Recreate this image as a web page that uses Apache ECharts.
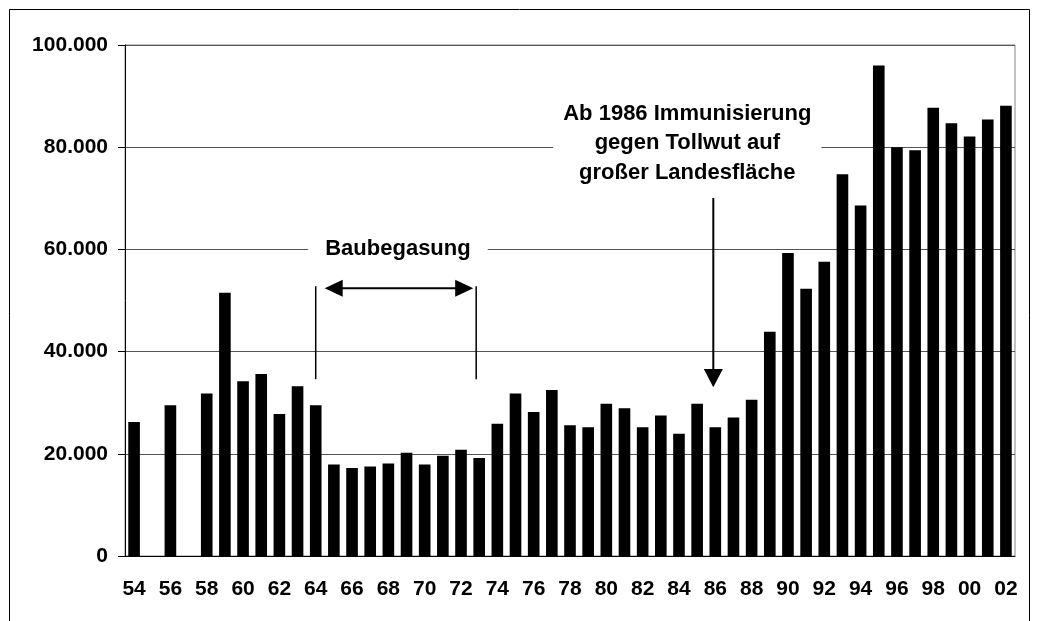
<!DOCTYPE html>
<html>
<head>
<meta charset="utf-8">
<script src="https://cdn.jsdelivr.net/npm/echarts@6/dist/echarts.min.js"></script>
<style>
html, body { margin: 0; padding: 0; background: #fff; }
#main { width: 1037px; height: 621px; }
</style>
</head>
<body>
<div id="main"></div>
<script>
// Jahre 1954 - 2002
var years = ['54','55','56','57','58','59','60','61','62','63','64','65','66','67','68','69',
    '70','71','72','73','74','75','76','77','78','79','80','81','82','83','84','85','86','87',
    '88','89','90','91','92','93','94','95','96','97','98','99','00','01','02'];
var values = [26200, null, 29500, null, 31800, 51500, 34200, 35600, 27800, 33200, 29500,
    17900, 17200, 17500, 18100, 20200, 17900, 19600, 20800, 19200, 25900, 31800,
    28200, 32500, 25600, 25200, 29800, 28900, 25200, 27500, 23900, 29800, 25200,
    27100, 30600, 43900, 59300, 52300, 57600, 74700, 68600, 96000, 80000, 79400,
    87700, 84700, 82100, 85400, 88100];
var yTicks = [0, 20000, 40000, 60000, 80000, 100000];
var yTickLabels = ['0', '20.000', '40.000', '60.000', '80.000', '100.000'];

var font = 'bold 22px "Liberation Sans", Arial, sans-serif';
var chart = echarts.init(document.getElementById('main'));

var option = {
    animation: false,
    backgroundColor: '#fff',
    grid: {
        left: 125, right: 22, top: 45, bottom: 65,
        show: true, borderColor: '#888', borderWidth: 1
    },
    xAxis: {
        type: 'category',
        data: years,
        axisLine: { lineStyle: { color: '#000', width: 1 } },
        axisTick: { show: false },
        axisLabel: {
            interval: 1,
            margin: 23,
            color: '#000',
            fontFamily: '"Liberation Sans", Arial, sans-serif',
            fontWeight: 'bold',
            fontSize: 21
        }
    },
    yAxis: {
        type: 'value',
        min: 0, max: 100000, interval: 20000,
        axisLine: { show: true, lineStyle: { color: '#000', width: 1 } },
        axisTick: { show: true, length: 7, lineStyle: { color: '#000' } },
        splitLine: { lineStyle: { color: '#555', width: 1 } },
        axisLabel: {
            margin: 17,
            color: '#000',
            fontFamily: '"Liberation Sans", Arial, sans-serif',
            fontWeight: 'bold',
            fontSize: 21,
            formatter: function (v) {
                return yTickLabels[yTicks.indexOf(v)];
            }
        }
    },
    series: [{
        type: 'bar',
        data: values,
        barWidth: '64%',
        itemStyle: { color: '#000' }
    }]
};
chart.setOption(option);

// Anmerkungen
function px(cat) { return chart.convertToPixel({ xAxisIndex: 0 }, cat); }
function py(v) { return chart.convertToPixel({ yAxisIndex: 0 }, v); }

var xL = px('64');
var xR = px('73') - 3;
var yTop = py(52800), yBot = py(34600), yArr = py(52400);
var xDown = px('86') - 2;

var graphics = [
    // äußerer Rahmen
    { type: 'rect', shape: { x: 9.5, y: 9.5, width: 1020, height: 700 },
      style: { fill: null, stroke: '#000', lineWidth: 1 }, silent: true },
    // Klammer Baubegasung
    { type: 'line', shape: { x1: xL, y1: yTop, x2: xL, y2: yBot }, style: { stroke: '#000', lineWidth: 1.5 } },
    { type: 'line', shape: { x1: xR, y1: yTop, x2: xR, y2: yBot }, style: { stroke: '#000', lineWidth: 1.5 } },
    { type: 'line', shape: { x1: xL + 20, y1: yArr, x2: xR - 20, y2: yArr }, style: { stroke: '#000', lineWidth: 2 } },
    { type: 'polygon', shape: { points: [[xL + 9, yArr], [xL + 27, yArr - 8.5], [xL + 27, yArr + 8.5]] }, style: { fill: '#000' } },
    { type: 'polygon', shape: { points: [[xR - 3, yArr], [xR - 21, yArr - 8.5], [xR - 21, yArr + 8.5]] }, style: { fill: '#000' } },
    { type: 'text', x: (xL + xR) / 2 + 2, y: py(60000),
      style: { text: 'Baubegasung', font: font, fill: '#000', align: 'center', verticalAlign: 'middle',
               backgroundColor: '#fff', padding: [3, 17, 3, 17] } },
    // Pfeil 1986
    { type: 'line', shape: { x1: xDown, y1: 198, x2: xDown, y2: py(36000) }, style: { stroke: '#000', lineWidth: 2 } },
    { type: 'polygon', shape: { points: [[xDown, py(33000)], [xDown - 9.5, py(36600)], [xDown + 9.5, py(36600)]] }, style: { fill: '#000' } },
    { type: 'text', x: xDown - 26, y: py(80000) - 4,
      style: { text: 'Ab 1986 Immunisierung\ngegen Tollwut auf\ngroßer Landesfläche', font: font, fill: '#000',
               align: 'center', verticalAlign: 'middle', lineHeight: 29.5,
               backgroundColor: '#fff', padding: [2, 10, 2, 10] } }
];
chart.setOption({ graphic: graphics });
</script>
</body>
</html>
